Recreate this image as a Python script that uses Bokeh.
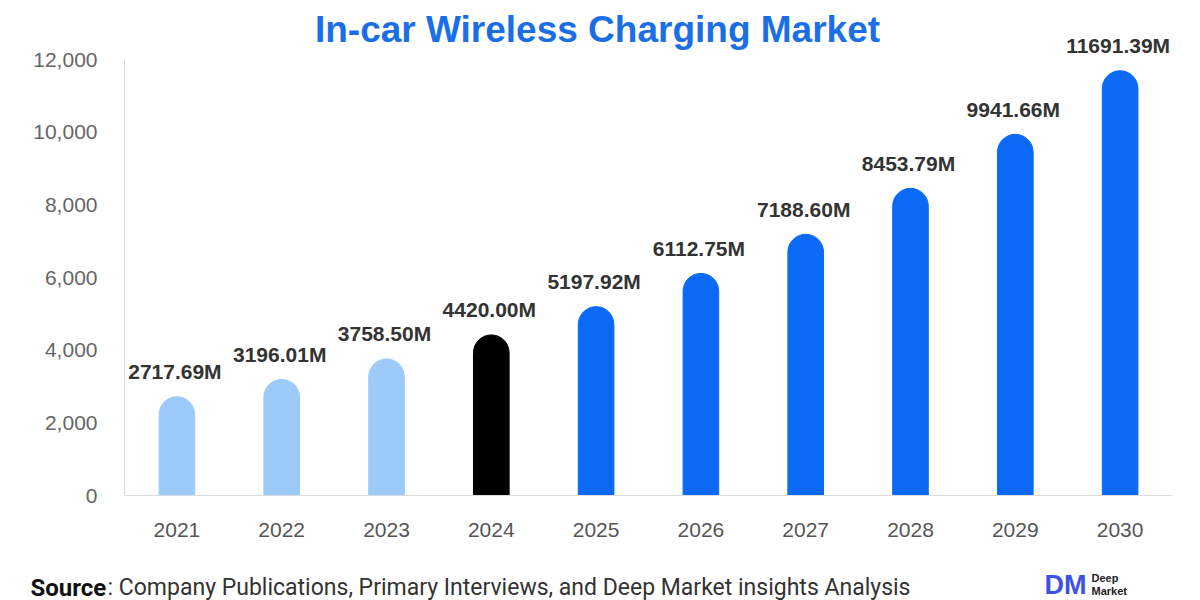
from bokeh.plotting import figure
from bokeh.models import (ColumnDataSource, FactorRange, Range1d, FixedTicker,
                          NumeralTickFormatter, Label)
from bokeh.embed import file_html
from bokeh.resources import INLINE
from bokeh.core.properties import value

years = ["2021", "2022", "2023", "2024", "2025", "2026", "2027", "2028", "2029", "2030"]
market = [2717.69, 3196.01, 3758.50, 4420.00, 5197.92, 6112.75, 7188.60, 8453.79, 9941.66, 11691.39]
labels = ["2717.69M", "3196.01M", "3758.50M", "4420.00M", "5197.92M", "6112.75M",
          "7188.60M", "8453.79M", "9941.66M", "11691.39M"]
bar_colors = ["#9ccbfa", "#9ccbfa", "#9ccbfa", "#000000", "#0a6af5", "#0a6af5",
              "#0a6af5", "#0a6af5", "#0a6af5", "#0a6af5"]
y_ticks = [0, 2000, 4000, 6000, 8000, 10000, 12000]

src = ColumnDataSource(dict(year=years, value=market, label=labels, color=bar_colors))

p = figure(width=1200, height=560, output_backend="svg", toolbar_location=None,
           x_range=FactorRange(*years), y_range=Range1d(0, 13624),
           min_border_left=124, min_border_right=28, min_border_top=0,
           min_border_bottom=65, outline_line_color=None, tools="")

p.vbar(x="year", top="value", width=0.34, color="color", source=src,
       border_radius=(18, 18, 0, 0))

p.text(x="year", y="value", text="label", source=src, text_align="center",
       text_baseline="middle", y_offset=-25, x_offset=-2,
       text_font=value("Liberation Sans"), text_font_style="bold",
       text_font_size="21px", text_color="#333333")

p.xgrid.grid_line_color = None
p.ygrid.grid_line_color = None

p.yaxis.ticker = FixedTicker(ticks=y_ticks)
p.yaxis.formatter = NumeralTickFormatter(format="0,0")
p.yaxis.bounds = (0, 12000)
for ax in (p.xaxis[0], p.yaxis[0]):
    ax.axis_line_color = "#dcdcdc"
    ax.major_tick_line_color = None
    ax.minor_tick_line_color = None
    ax.major_label_text_font = "Liberation Sans"
    ax.major_label_text_font_size = "21px"
    ax.major_label_text_color = "#666666"
p.yaxis.major_label_standoff = 21
p.xaxis.major_label_standoff = 21
p.xaxis.major_label_text_color = "#555555"

p.add_layout(Label(x=473, y=466, x_units="screen", y_units="screen",
                   text="In-car Wireless Charging Market", text_align="center",
                   text_baseline="alphabetic", text_font="Liberation Sans",
                   text_font_style="bold", text_font_size="37px",
                   text_color="#1b6fe6"))

# footer strip with source note and logo
f = figure(width=1200, height=40, output_backend="svg", toolbar_location=None,
           x_range=Range1d(0, 1200), y_range=Range1d(0, 40),
           x_axis_type=None, y_axis_type=None, min_border=0,
           outline_line_color=None, tools="")
f.grid.grid_line_color = None

f.add_layout(Label(x=30, y=13, text="Source", text_font="Roboto",
                   text_font_style="bold", text_font_size="24px",
                   text_color="#111111", text_baseline="middle"))
f.add_layout(Label(x=107, y=13,
                   text=": Company Publications, Primary Interviews, and Deep Market insights Analysis",
                   text_font="Roboto", text_font_size="23px", text_color="#333333",
                   text_baseline="middle"))

f.add_layout(Label(x=1044, y=16, text="DM", text_font="Liberation Sans",
                   text_font_style="bold", text_font_size="27px",
                   text_color="#3d50e8", text_baseline="middle"))
f.add_layout(Label(x=1091, y=23, text="Deep", text_font="Liberation Sans",
                   text_font_style="bold", text_font_size="11px",
                   text_color="#222222", text_baseline="middle"))
f.add_layout(Label(x=1091, y=10, text="Market", text_font="Liberation Sans",
                   text_font_style="bold", text_font_size="11px",
                   text_color="#222222", text_baseline="middle"))

open("out.html", "w").write(file_html([p, f], INLINE))
